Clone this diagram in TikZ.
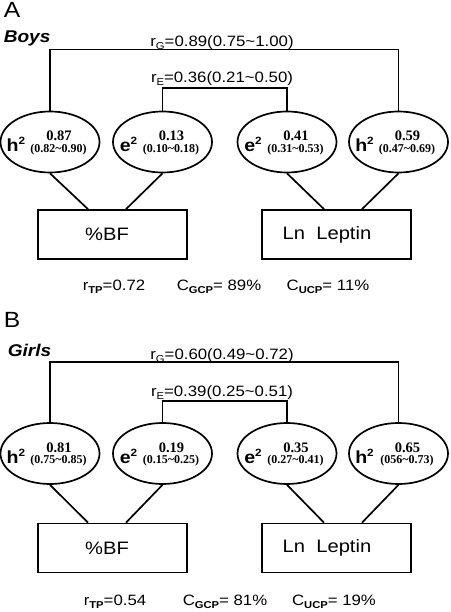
\documentclass[tikz,border=0pt]{standalone}
\usepackage{fontspec}
\setmainfont{Liberation Sans}[FakeStretch=1.12]
\newfontfamily\numfont{Liberation Serif}
\usetikzlibrary{shapes.geometric,calc}
\newcommand{\sub}[1]{\raisebox{-3pt}{\fontsize{10}{10}\selectfont #1}}
\newcommand{\bsub}[1]{\raisebox{-3pt}{\fontsize{10}{10}\selectfont\bfseries #1}}
\newcommand{\sq}{\raisebox{7pt}{\fontsize{10.5}{10.5}\selectfont\bfseries 2}}
\newcommand{\varell}[6]{%
  \node[ell] (#1) at (#2,#3) {};
  \node[symtxt] (#1s) at ($(#1)+(-34,9.5)$) {#4\sq};
  \node[valtxt] (#1v) at ($(#1)+(9,-1.5)$) {#5};
  \node[rngtxt] (#1r) at ($(#1)+(8.5,10.2)$) {#6};
}
\begin{document}
\begin{tikzpicture}[x=1pt,y=-1pt,line width=1.7pt,
  ell/.style={draw,ellipse,minimum width=99pt,minimum height=61pt,inner sep=0pt},
  bx/.style={draw,rectangle,minimum width=149pt,minimum height=49pt,inner sep=0pt,font=\fontsize{18}{18}\selectfont},
  lbl/.style={inner sep=0pt,anchor=base,font=\fontsize{15}{15}\selectfont},
  corr/.style={inner sep=0pt,anchor=base,font=\fontsize{15}{15}\selectfont},
  symtxt/.style={inner sep=0pt,anchor=base,font=\fontsize{17.5}{17.5}\selectfont\bfseries},
  valtxt/.style={inner sep=0pt,anchor=base,font=\fontsize{14.5}{14.5}\selectfont\numfont\bfseries},
  rngtxt/.style={inner sep=0pt,anchor=base,font=\fontsize{12}{12}\selectfont\numfont\bfseries},
  plet/.style={inner sep=0pt,anchor=north west,font=\fontsize{22}{22}\selectfont},
  sex/.style={inner sep=0pt,anchor=base west,font=\fontsize{17}{17}\selectfont\bfseries\itshape}]
\useasboundingbox (0,0) rectangle (450,612);

% ---------- Panel A ----------
\node[plet] (A) at (3,1.7) {A};
\node[sex] (boys) at (3,43) {Boys};
\varell{e1A}{50}{142}{h}{0.87}{(0.82\textasciitilde0.90)}
\varell{e2A}{162.5}{142}{e}{0.13}{(0.10\textasciitilde0.18)}
\varell{e3A}{287}{142}{e}{0.41}{(0.31\textasciitilde0.53)}
\varell{e4A}{398.5}{142}{h}{0.59}{(0.47\textasciitilde0.69)}
\coordinate (gA) at (222,49.5);
\coordinate (eA) at (225,88);
\node[corr] (rgA) at (222,46.5) {r\sub{G}=0.89(0.75\textasciitilde1.00)};
\node[corr] (reA) at (222,83) {r\sub{E}=0.36(0.21\textasciitilde0.50)};
\draw (e1A.north) |- (gA) -| (e4A.north);
\draw (e2A.north) |- (eA) -| (e3A.north);
\node[bx] (bfA) at (112.5,234.5) {\hspace*{-11pt}\%BF};
\node[bx] (lpA) at (336.5,234.5) {\hspace*{-19pt}Ln\ \ Leptin};
\draw (e1A.south) -- ($(bfA.north)+(-24.5,0)$);
\draw (e2A.south) -- ($(bfA.north)+(13.5,0)$);
\draw (e3A.south) -- ($(lpA.north)+(-12.5,0)$);
\draw (e4A.south) -- ($(lpA.north)+(25.5,0)$);
\node[lbl] (tpA) at (114,290) {r\bsub{TP}=0.72};
\node[lbl] (gcA) at (219,290) {C\bsub{GCP}= 89\%};
\node[lbl] (ucA) at (328,290) {C\bsub{UCP}= 11\%};

% ---------- Panel B ----------
\node[plet] (B) at (3,312) {B};
\node[sex] (girls) at (7,356.5) {Girls};
\varell{e1B}{50}{453.5}{h}{0.81}{(0.75\textasciitilde0.85)}
\varell{e2B}{162.5}{453.5}{e}{0.19}{(0.15\textasciitilde0.25)}
\varell{e3B}{287}{453.5}{e}{0.35}{(0.27\textasciitilde0.41)}
\varell{e4B}{398.5}{453.5}{h}{0.65}{(056\textasciitilde0.73)}
\coordinate (gB) at (222,362);
\coordinate (eB) at (225,400.7);
\node[corr] (rgB) at (222,359.5) {r\sub{G}=0.60(0.49\textasciitilde0.72)};
\node[corr] (reB) at (222,396.5) {r\sub{E}=0.39(0.25\textasciitilde0.51)};
\draw (e1B.north) |- (gB) -| (e4B.north);
\draw (e2B.north) |- (eB) -| (e3B.north);
\node[bx] (bfB) at (112.5,548) {\hspace*{-11pt}\%BF};
\node[bx] (lpB) at (336.5,548) {\hspace*{-19pt}Ln\ \ Leptin};
\draw (e1B.south) -- ($(bfB.north)+(-24.5,0)$);
\draw (e2B.south) -- ($(bfB.north)+(13.5,0)$);
\draw (e3B.south) -- ($(lpB.north)+(-12.5,0)$);
\draw (e4B.south) -- ($(lpB.north)+(25.5,0)$);
\node[lbl] (tpB) at (115,605.5) {r\bsub{TP}=0.54};
\node[lbl] (gcB) at (225,605.5) {C\bsub{GCP}= 81\%};
\node[lbl] (ucB) at (334,605.5) {C\bsub{UCP}= 19\%};
\end{tikzpicture}
\end{document}
